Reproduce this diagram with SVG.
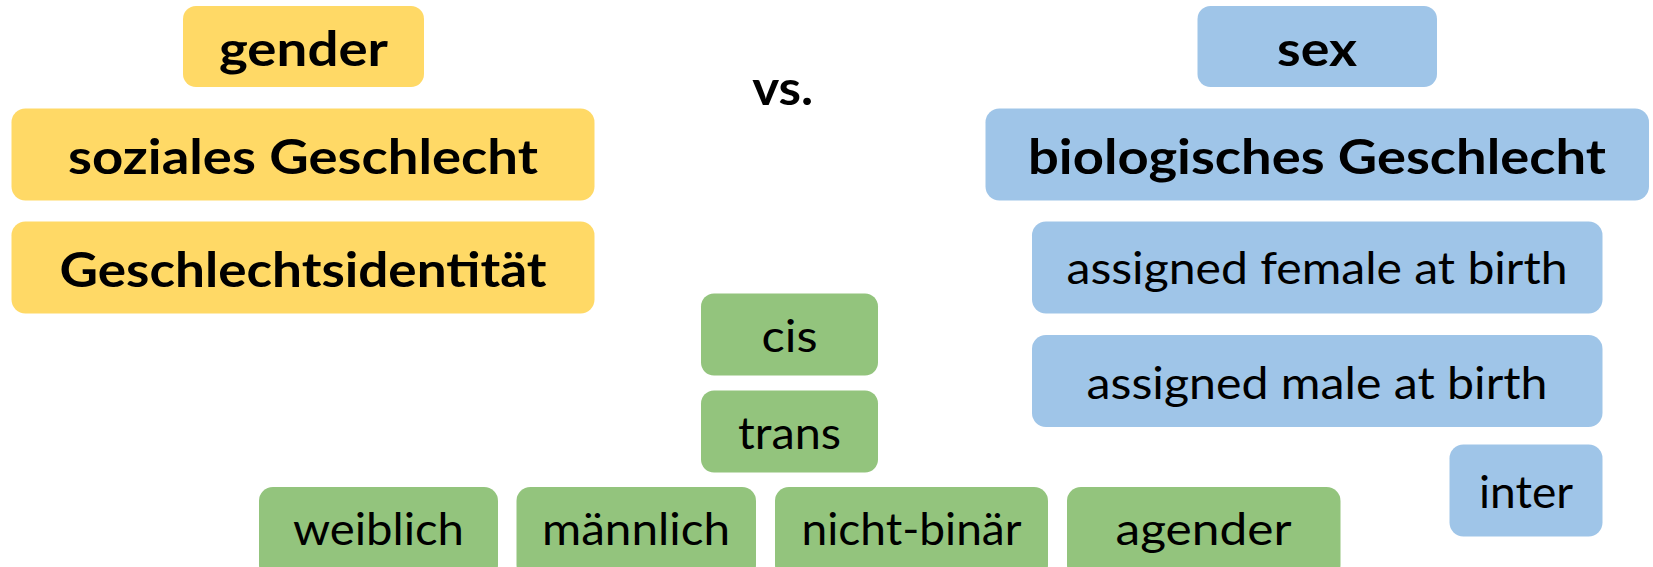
<svg xmlns="http://www.w3.org/2000/svg" width="1653" height="567" viewBox="0 0 1653 567">
<style>
.y{fill:#FFD966}
.b{fill:#9FC5E8}
.g{fill:#93C47D}
text{font-family:Lato,"Open Sans",sans-serif;fill:#000;text-anchor:middle}
.h{font-weight:bold;font-size:47px}
.r{font-size:44px}
</style>
<rect width="1653" height="567" fill="#fff"/>
<g id="gender"><rect class="y" x="183" y="6" width="241" height="81" rx="13"/><text class="h" x="303.5" y="66" textLength="169" lengthAdjust="spacingAndGlyphs">gender</text></g>
<g id="soziales"><rect class="y" x="11.5" y="108.5" width="583" height="92" rx="14"/><text class="h" x="303" y="173.5" textLength="470" lengthAdjust="spacingAndGlyphs">soziales Geschlecht</text></g>
<g id="identitaet"><rect class="y" x="11.5" y="221.5" width="583" height="92" rx="14"/><text class="h" x="303" y="287" textLength="487" lengthAdjust="spacingAndGlyphs">Geschlechtsidentität</text></g>
<g id="vs"><text class="h" x="782.7" y="104.5" textLength="61" lengthAdjust="spacingAndGlyphs">vs.</text></g>
<g id="sex"><rect class="b" x="1197.5" y="6" width="239.5" height="81" rx="13"/><text class="h" x="1317" y="65.5" textLength="80" lengthAdjust="spacingAndGlyphs">sex</text></g>
<g id="biologisch"><rect class="b" x="985.5" y="108.5" width="663.5" height="92" rx="14"/><text class="h" x="1317" y="173.5" textLength="578" lengthAdjust="spacingAndGlyphs">biologisches Geschlecht</text></g>
<g id="afab"><rect class="b" x="1032" y="221.5" width="570.5" height="92" rx="14"/><text class="r" x="1317" y="284.3" textLength="501" lengthAdjust="spacingAndGlyphs">assigned female at birth</text></g>
<g id="amab"><rect class="b" x="1032" y="335" width="570.5" height="92" rx="14"/><text class="r" x="1317" y="398.5" textLength="461" lengthAdjust="spacingAndGlyphs">assigned male at birth</text></g>
<g id="inter"><rect class="b" x="1449.5" y="444.5" width="153" height="92" rx="14"/><text class="r" x="1526" y="507.5" textLength="94" lengthAdjust="spacingAndGlyphs">inter</text></g>
<g id="cis"><rect class="g" x="701" y="293.5" width="177" height="82" rx="13"/><text class="r" x="789.5" y="351.5" textLength="56" lengthAdjust="spacingAndGlyphs">cis</text></g>
<g id="trans"><rect class="g" x="701" y="390.5" width="177" height="82" rx="13"/><text class="r" x="789.5" y="448.5" textLength="103" lengthAdjust="spacingAndGlyphs">trans</text></g>
<g id="weiblich"><rect class="g" x="259" y="487" width="239" height="92" rx="14"/><text class="r" x="378.5" y="545" textLength="171" lengthAdjust="spacingAndGlyphs">weiblich</text></g>
<g id="maennlich"><rect class="g" x="516.5" y="487" width="239.5" height="92" rx="14"/><text class="r" x="636" y="545" textLength="188" lengthAdjust="spacingAndGlyphs">männlich</text></g>
<g id="nichtbinaer"><rect class="g" x="775" y="487" width="273" height="92" rx="14"/><text class="r" x="911.5" y="545" textLength="220" lengthAdjust="spacingAndGlyphs">nicht-binär</text></g>
<g id="agender"><rect class="g" x="1067" y="487" width="273.5" height="92" rx="14"/><text class="r" x="1203.5" y="545" textLength="176" lengthAdjust="spacingAndGlyphs">agender</text></g>
<g id="connectors"></g>
</svg>
